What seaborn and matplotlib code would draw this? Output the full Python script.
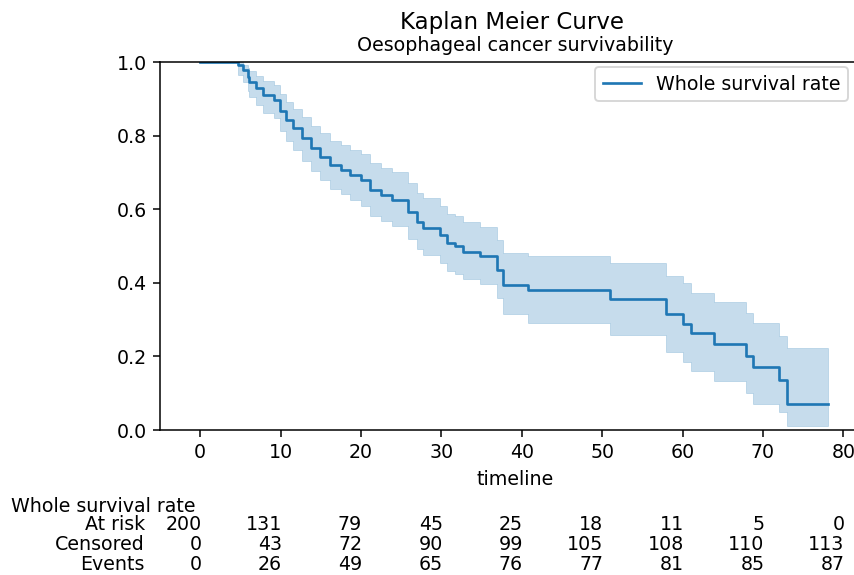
import numpy as np
import pandas as pd
import matplotlib
matplotlib.use("Agg")
import matplotlib.pyplot as plt
import matplotlib.transforms as mtransforms
import seaborn as sns

# Kaplan-Meier steps
times = [0, 4.7, 5.3, 5.9, 6.1, 7.0, 7.8, 9.2, 9.9, 10.7, 11.5, 12.7, 13.8, 14.9,
         16.1, 17.5, 18.6, 20.0, 21.1, 22.5, 23.8, 25.9, 26.9, 27.7, 29.8, 30.7,
         31.7, 32.7, 34.8, 36.9, 37.7, 40.8, 51.0, 57.9, 60.0, 61.0, 63.9, 67.9,
         68.8, 72.0, 73.0, 78.1]
survival = [1.000, 0.992, 0.978, 0.960, 0.947, 0.928, 0.910, 0.898, 0.866, 0.842,
            0.820, 0.793, 0.766, 0.743, 0.720, 0.707, 0.693, 0.679, 0.652, 0.638,
            0.625, 0.593, 0.566, 0.550, 0.530, 0.507, 0.500, 0.485, 0.473, 0.435,
            0.394, 0.380, 0.356, 0.314, 0.288, 0.263, 0.235, 0.201, 0.170, 0.136,
            0.070, 0.070]
ci_upper = [1.000, 1.000, 0.993, 0.984, 0.976, 0.962, 0.948, 0.938, 0.912, 0.892,
            0.873, 0.850, 0.826, 0.806, 0.786, 0.774, 0.762, 0.750, 0.725, 0.712,
            0.700, 0.670, 0.645, 0.630, 0.610, 0.588, 0.581, 0.566, 0.552, 0.515,
            0.480, 0.473, 0.455, 0.418, 0.399, 0.373, 0.349, 0.317, 0.290, 0.255,
            0.224, 0.224]
ci_lower = [1.000, 0.965, 0.945, 0.922, 0.906, 0.884, 0.862, 0.848, 0.812, 0.785,
            0.760, 0.732, 0.703, 0.678, 0.655, 0.640, 0.625, 0.610, 0.582, 0.567,
            0.553, 0.519, 0.491, 0.475, 0.455, 0.431, 0.424, 0.409, 0.397, 0.358,
            0.315, 0.290, 0.258, 0.213, 0.186, 0.161, 0.133, 0.101, 0.072, 0.050,
            0.011, 0.011]

# at-risk table
table_ticks = [0, 10, 20, 30, 40, 50, 60, 70, 80]
at_risk = [200, 131, 79, 45, 25, 18, 11, 5, 0]
censored = [0, 43, 72, 90, 99, 105, 108, 110, 113]
events = [0, 26, 49, 65, 76, 77, 81, 85, 87]

LABEL = "Whole survival rate"
COLOR = "#1f77b4"


def draw_curve(ax, df):
    ax.fill_between(df["timeline"], df["lower"], df["upper"], step="post",
                    color=COLOR, alpha=0.25, linewidth=0.4)
    sns.lineplot(data=df, x="timeline", y="survival", drawstyle="steps-post",
                 color=COLOR, linewidth=1.4, label=LABEL, ax=ax)


def draw_table(fig, ax):
    trans = mtransforms.blended_transform_factory(ax.transData, fig.transFigure)
    rows = [("At risk", at_risk), ("Censored", censored), ("Events", events)]
    fig.text(11 / 854, 1 - 506 / 575, LABEL, ha="left", va="center", fontsize=10)
    for r, (name, vals) in enumerate(rows):
        y = 1 - (525 + r * 19.5) / 575
        fig.text(145 / 854, y, name, ha="right", va="center", fontsize=10)
        for t, v in zip(table_ticks, vals):
            ax.text(t + 0.15, y, str(v), ha="right", va="center", fontsize=10,
                    transform=trans, clip_on=False)


def main():
    df = pd.DataFrame({"timeline": times, "survival": survival,
                       "upper": ci_upper, "lower": ci_lower})

    fig = plt.figure(figsize=(854 / 137, 575 / 137), dpi=137)
    ax = fig.add_axes([160 / 854, 145 / 575, 710 / 854, 368 / 575])

    draw_curve(ax, df)

    ax.set_xlim(-5, 83.3)
    ax.set_ylim(0, 1)
    ax.set_xticks(table_ticks)
    ax.set_yticks(np.arange(0, 1.01, 0.2))
    ax.set_xlabel("timeline")
    ax.set_ylabel("")
    ax.set_title("Oesophageal cancer survivability", fontsize=10)
    fig.suptitle("Kaplan Meier Curve", x=512 / 854, y=1 - 22 / 575,
                 va="center", fontsize=12)
    ax.legend(loc="upper right", bbox_to_anchor=(848 / 854, 1 - 67 / 575),
              bbox_transform=fig.transFigure, borderaxespad=0)

    draw_table(fig, ax)

    fig.savefig("out.png", dpi=137)
    plt.close(fig)


if __name__ == "__main__":
    main()
